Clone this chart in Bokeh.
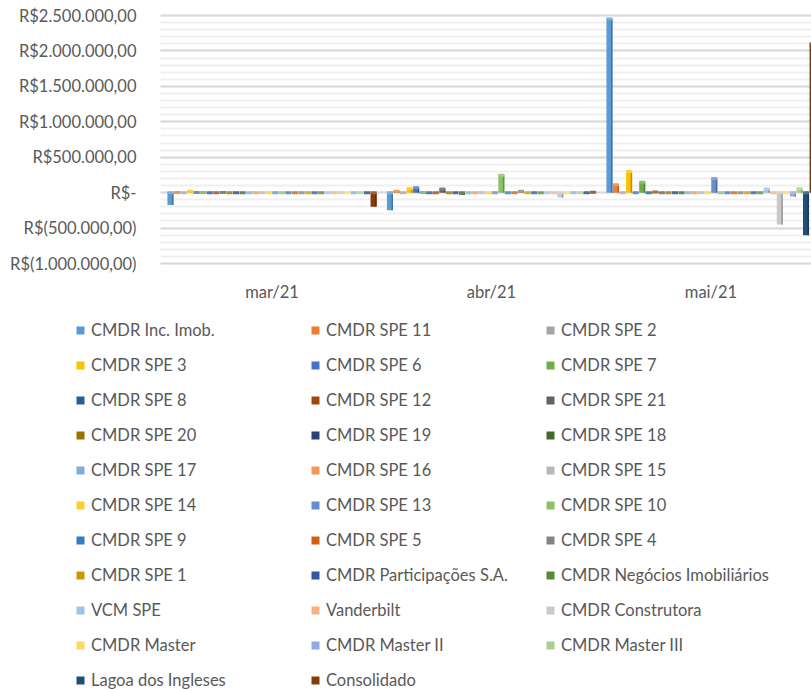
from bokeh.plotting import figure
from bokeh.models import ColumnDataSource, Range1d, FixedTicker, Legend, LegendItem
from bokeh.embed import file_html
from bokeh.resources import INLINE

months = ["mar/21", "abr/21", "mai/21"]

series = ["CMDR Inc. Imob.", "CMDR SPE 11", "CMDR SPE 2", "CMDR SPE 3", "CMDR SPE 6",
          "CMDR SPE 7", "CMDR SPE 8", "CMDR SPE 12", "CMDR SPE 21", "CMDR SPE 20",
          "CMDR SPE 19", "CMDR SPE 18", "CMDR SPE 17", "CMDR SPE 16", "CMDR SPE 15",
          "CMDR SPE 14", "CMDR SPE 13", "CMDR SPE 10", "CMDR SPE 9", "CMDR SPE 5",
          "CMDR SPE 4", "CMDR SPE 1", "CMDR Participações S.A.", "CMDR Negócios Imobiliários",
          "VCM SPE", "Vanderbilt", "CMDR Construtora", "CMDR Master", "CMDR Master II",
          "CMDR Master III", "Lagoa dos Ingleses", "Consolidado"]

colors = ["#5B9BD5", "#ED7D31", "#A5A5A5", "#FFC000", "#4472C4", "#70AD47",
          "#255E91", "#9E480E", "#636363", "#997300", "#264478", "#43682B",
          "#7CAFDD", "#F1975A", "#B7B7B7", "#FFCD33", "#698ED0", "#8CC168",
          "#327DC2", "#D26012", "#848484", "#CC9A00", "#335AA1", "#5A8A39",
          "#9DC3E6", "#F4B183", "#C9C9C9", "#FFD966", "#8FAADC", "#A9D18E",
          "#1F4E79", "#843C0C"]

mar_21 = [-175000, 3000, 0, 20000, 2000, 1000, -2000, 0, 1000, 0,
          0, -1000, 0, 0, 0, 0, 0, 0, 0, 0,
          0, 0, 0, 0, 0, 0, 0, 0, 0, 0,
          -3000, -200000]

abr_21 = [-250000, 20000, 0, 55000, 70000, 2000, -20000, -8000, 50000, -2000,
          0, -30000, 0, 0, 0, 0, 0, 245000, 0, -6000,
          18000, -3000, 0, -12000, 0, 0, -70000, 0, 0, 0,
          -12000, 5000]

mai_21 = [2450000, 110000, 0, 300000, -8000, 145000, -15000, 10000, 0, 0,
          0, 0, 0, 0, 0, 0, 200000, 0, -3000, -15000,
          0, 0, 0, 0, 50000, 0, -450000, -5000, -55000, 55000,
          -600000, 2100000]

y_ticks = [-1000000, -500000, 0, 500000, 1000000, 1500000, 2000000, 2500000]
y_tick_labels = ["R$(1.000.000,00)", "R$(500.000,00)", "R$-", "R$500.000,00",
                 "R$1.000.000,00", "R$1.500.000,00", "R$2.000.000,00", "R$2.500.000,00"]
y_minor_step = 100000

FONT = "Lato"
FSIZE = "16.5px"
TXT = "#595959"

# ---- layout (pixels inside the figure) ----
W, H = 811, 690
PLOT_LEFT_PX = 160      # where the plot area begins
CAT0_PX = 271.5         # centre of first category
CAT_PX = 219.5          # width of one category
YTOP_PX, YBOT_PX = 15, 263   # pixel rows of top / bottom y ticks

x_start = (0 - CAT0_PX) / CAT_PX
x_end = (W - CAT0_PX) / CAT_PX
plot_left_x = (PLOT_LEFT_PX - CAT0_PX) / CAT_PX
per_px = (y_ticks[-1] - y_ticks[0]) / (YBOT_PX - YTOP_PX)
y_end = y_ticks[-1] + YTOP_PX * per_px
y_start = y_ticks[0] - (H - YBOT_PX) * per_px


def lighten(hex_color, f):
    h = hex_color.lstrip("#")
    r, g, b = (int(h[k:k + 2], 16) for k in (0, 2, 4))
    r, g, b = (int(c + (255 - c) * f) if f > 0 else int(c * (1 + f)) for c in (r, g, b))
    return "#%02X%02X%02X" % (r, g, b)


p = figure(width=W, height=H, output_backend="svg", toolbar_location=None,
           x_range=Range1d(x_start, x_end), y_range=Range1d(y_start, y_end),
           min_border=0)
p.outline_line_color = None
p.background_fill_color = "white"
p.xgrid.grid_line_color = None

yt = FixedTicker(ticks=y_ticks,
                 minor_ticks=list(range(y_ticks[0], y_ticks[-1] + 1, y_minor_step)))
p.yaxis.ticker = yt
p.yaxis.major_label_overrides = {t: l for t, l in zip(y_ticks, y_tick_labels)}
p.yaxis.fixed_location = plot_left_x
p.yaxis.bounds = (y_ticks[0], y_ticks[-1])

grid = p.ygrid[0]
grid.ticker = yt
grid.grid_line_color = None
grid.minor_grid_line_color = None
if "cross_bounds" in grid.properties():
    grid.cross_bounds = (plot_left_x, x_end)
    grid.grid_line_color = "#D9D9D9"
    grid.grid_line_width = 2
    grid.minor_grid_line_color = "#EFEFEF"
    grid.minor_grid_line_width = 2
else:
    minor = [t for t in yt.minor_ticks if t not in y_ticks]
    p.segment(x0=[plot_left_x] * len(minor), x1=[x_end] * len(minor), y0=minor, y1=minor,
              line_color="#EFEFEF", line_width=2)
    p.segment(x0=[plot_left_x] * len(y_ticks), x1=[x_end] * len(y_ticks), y0=y_ticks,
              y1=y_ticks, line_color="#D9D9D9", line_width=2)

p.xaxis.ticker = FixedTicker(ticks=list(range(len(months))))
p.xaxis.major_label_overrides = {i: m for i, m in enumerate(months)}
p.xaxis.fixed_location = y_ticks[0]

for ax in (p.xaxis, p.yaxis):
    ax.axis_line_color = None
    ax.major_tick_line_color = None
    ax.minor_tick_line_color = None
    ax.major_label_text_font = FONT
    ax.major_label_text_font_size = FSIZE
    ax.major_label_text_color = TXT
p.yaxis.major_label_standoff = 18
p.xaxis.major_label_standoff = 12

n = len(series)
step = 1 / (n + 1.5)
bw = step * 0.92
items = []
for i, name in enumerate(series):
    vals = [mar_21[i], abr_21[i], mai_21[i]]
    xs = [c + (i - (n - 1) / 2) * step for c in range(len(months))]
    src = ColumnDataSource(dict(x=xs, top=vals,
                                face=[max(v, 0) for v in vals],
                                sx=[x + bw * 0.38 for x in xs]))
    r = p.vbar(x="x", top="top", bottom=0, width=bw, source=src,
               fill_color=colors[i], line_color=None)
    p.vbar(x="sx", top="top", bottom=0, width=bw * 0.24, source=src,
           fill_color=lighten(colors[i], -0.25), line_color=None)
    p.rect(x="x", y="face", width=bw, height=3, height_units="screen", source=src,
           fill_color=lighten(colors[i], 0.2), line_color=None)
    items.append(LegendItem(label=name, renderers=[r]))

legend = Legend(items=items, location=(75, 0), orientation="horizontal", ncols=3)
legend.label_text_font = FONT
legend.label_text_font_size = FSIZE
legend.label_text_color = TXT
legend.glyph_width = 10
legend.glyph_height = 10
legend.label_standoff = 6
legend.label_width = 204
legend.label_height = 20
legend.spacing = 15
legend.padding = 0
legend.margin = 0
legend.border_line_color = None
legend.background_fill_alpha = 0
p.add_layout(legend)

open("out.html", "w").write(file_html(p, INLINE))
